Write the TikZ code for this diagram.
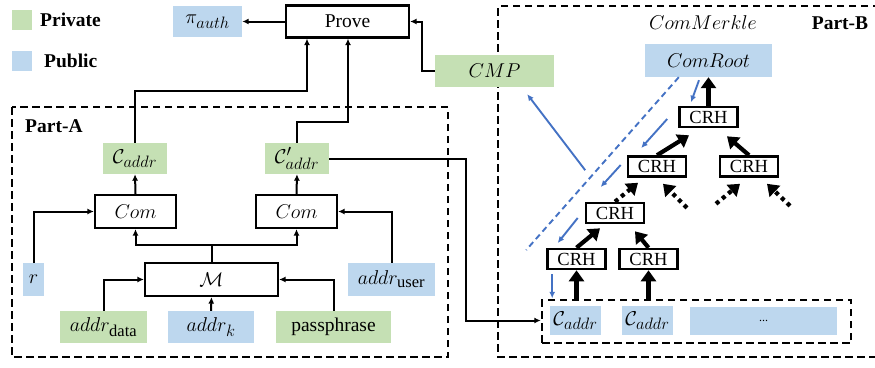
\RequirePackage{fix-cm}
\documentclass[tikz,border=0pt]{standalone}
\usepackage{fontspec}
\setmainfont{Liberation Serif}
\usetikzlibrary{arrows.meta,calc}
\definecolor{pgreen}{RGB}{197,224,180}
\definecolor{pblue}{RGB}{189,215,238}
\definecolor{ablue}{RGB}{68,114,196}
\DeclareMathSizes{19.5}{20}{16.5}{12}
\begin{document}
\begin{tikzpicture}[x=1pt,y=-1pt, font=\fontsize{19.5}{22}\selectfont,
  gbox/.style={fill=pgreen, inner sep=0pt},
  bbox/.style={fill=pblue, inner sep=0pt},
  wbox/.style={draw, line width=2.2pt, fill=white, inner sep=0pt},
  crh/.style={draw, line width=2.6pt, fill=white, inner sep=0pt, minimum width=58pt, minimum height=20pt, font=\fontsize{18.5}{20}\selectfont},
  boldlbl/.style={font=\bfseries\fontsize{19.5}{22}\selectfont, inner sep=0pt},
  arr/.style={line width=2pt, -{Latex[length=6.5pt,width=6pt]}},
  ln/.style={line width=2pt},
  part/.style={draw, line width=2.5pt, dash pattern=on 7.5pt off 4.5pt},
  thk/.style={line width=4.2pt, -{Triangle[length=11pt,width=15pt]}},
  dotk/.style={line width=4.2pt, dash pattern=on 4pt off 4pt, -{Triangle[length=11pt,width=15pt]}},
  barr/.style={ablue, line width=1.9pt, -{Latex[length=6.5pt,width=6pt]}},
  bdash/.style={ablue, line width=1.9pt, dash pattern=on 6pt off 4pt},
  ]
\useasboundingbox (0,0) rectangle (875,367);

% part boxes
\draw[part] (12,107) rectangle (448,357);
\draw[part] (880,6) -- (498,6) -- (498,357) -- (880,357);
\node[boldlbl, anchor=west] (pa) at (25,126) {Part-A};
\node[boldlbl] (pb) at (840,23) {Part-B};
\node (cm) at (703,23) {$ComMerkle$};

% legend
\node[gbox, minimum width=20pt, minimum height=20pt] (lg) at (22,20) {};
\node[boldlbl, anchor=west] (lgt) at (40,20) {Private};
\node[bbox, minimum width=20pt, minimum height=20pt] (lb) at (22,60.5) {};
\node[boldlbl, anchor=west] (lbt) at (44,61) {Public};

% left nodes
\node[bbox, minimum width=69pt, minimum height=31pt] (pi) at (207.5,21.5) {$\pi_{auth}$};
\node[wbox, minimum width=123pt, minimum height=32pt] (prove) at (347.5,21.5) {Prove};
\node[gbox, minimum width=119pt, minimum height=32pt] (cmp) at (494.5,71) {$CMP$};
\node[gbox, minimum width=64pt, minimum height=31pt] (ca) at (135,158.5) {$\mathcal{C}_{addr}$};
\node[gbox, minimum width=64pt, minimum height=31pt] (cb) at (297,158.5) {$\mathcal{C}'_{addr}$};
\node[wbox, minimum width=81pt, minimum height=33pt] (com1) at (135.5,211.5) {$Com$};
\node[wbox, minimum width=81pt, minimum height=33pt] (com2) at (296.5,211.5) {$Com$};
\node[bbox, minimum width=21pt, minimum height=33pt] (r) at (33.5,279.5) {$r$};
\node[wbox, minimum width=133pt, minimum height=33pt] (m) at (211.5,279.5) {$\mathcal{M}$};
\node[bbox, minimum width=87pt, minimum height=33pt] (au) at (391.5,279.5) {$addr_{\mathrm{user}}$};
\node[gbox, minimum width=87pt, minimum height=32pt] (ad) at (103.5,327) {$addr_{\mathrm{data}}$};
\node[bbox, minimum width=86pt, minimum height=32pt] (ak) at (211,327) {$addr_k$};
\node[gbox, minimum width=115pt, minimum height=32pt] (pp) at (333.5,327) {passphrase};

% right nodes
\node[bbox, minimum width=127pt, minimum height=33pt] (cr) at (708.5,60.5) {$ComRoot$};
\node[crh] (c1) at (708.5,117) {CRH};
\node[crh] (c2L) at (657,166.5) {CRH};
\node[crh] (c2R) at (749,166.5) {CRH};
\node[crh] (c3) at (615,213) {CRH};
\node[crh] (c4L) at (576.5,259) {CRH};
\node[crh] (c4R) at (648.5,259) {CRH};
\node[part, minimum width=309pt, minimum height=43pt, inner sep=0pt] (bb) at (696.5,321.5) {};
\node[bbox, minimum width=51pt, minimum height=29pt] (k1) at (575.5,320.5) {$\mathcal{C}_{addr}$};
\node[bbox, minimum width=51pt, minimum height=29pt] (k2) at (647.5,320.5) {$\mathcal{C}_{addr}$};
\node[bbox, minimum width=147pt, minimum height=28pt] (kd) at (763.5,321) {\fontsize{12}{12}\selectfont ...};

% left connectors
\draw[arr] (prove.west) -- (pi.east);
\draw[arr] (cmp.west) -- ++(-13,0) |- (prove.east);
\draw[arr] (ca.north) |- ($(prove.south)+(-40.5,52.5)$) -- ($(prove.south)+(-40.5,0)$);
\draw[arr] (cb.north) |- ($(prove.south)+(0.5,83.5)$) -- ($(prove.south)+(0.5,0)$);
\draw[arr] (cb.east) -- ++(137,0) |- (bb.west |- k1);
\draw[arr] (com1.north) -- (ca.south);
\draw[arr] (com2.north) -- (cb.south);
\draw[arr] (r.north) |- (com1.west);
\draw[arr] (au.north) |- (com2.east);
\draw[ln] (m.north) -- ++(0,-17) coordinate (mj);
\draw[arr] (mj) -| (com1.south);
\draw[arr] (mj) -| (com2.south);
\draw[arr] (ad.north) |- (m.west);
\draw[arr] (pp.north) |- (m.east);
\draw[arr] (ak.north) -- (m.south);

% tree arrows
\draw[thk] (c1.north) -- (cr.south);
\draw[thk] (c2L.north) -- ($(c1.south)+(-19.5,7)$);
\draw[thk] (c2R.north) -- ($(c1.south)+(18.5,8)$);
\draw[dotk] (c3.north) -- ($(c2L.south)+(-19,5)$);
\draw[dotk] ($(c2L.south)+(30,30)$) -- ($(c2L.south)+(6,6)$);
\draw[dotk] ($(c2R.south)+(-33,26)$) -- ($(c2R.south)+(-9,6)$);
\draw[dotk] ($(c2R.south)+(41,28)$) -- ($(c2R.south)+(18,6)$);
\draw[thk] (c4L.north) -- ($(c3.south)+(-15,4)$);
\draw[thk] (c4R.north) -- ($(c3.south)+(20,7)$);
\draw[thk] (c4L.south |- bb.north) -- (c4L.south);
\draw[thk] (c4R.south |- bb.north) -- (c4R.south);

% blue paths
\draw[barr] ($(cr.south)+(-9.5,3)$) -- ($(cr.south)+(-17.5,25)$);
\draw[barr] ($(c1.west)+(-11,2)$) -- ($(c1.west)+(-37,31)$);
\draw[barr] ($(c2L.west)+(-6,-1.5)$) -- ($(c2L.west)+(-26,20.5)$);
\draw[barr] ($(c3.west)+(-7,5)$) -- ($(c3.west)+(-27,30)$);
\draw[barr] ($(c4L.south west)+(6,4)$) -- ($(c4L.south west)+(6,28)$);
\draw[barr] ($(cmp.south east)+(31,83)$) -- ($(cmp.south east)+(-27,7)$);
\draw[bdash] ($(cr.south west)+(34,0)$) -- ($(c4L.west)+(-20,-9)$);
\end{tikzpicture}
\end{document}
